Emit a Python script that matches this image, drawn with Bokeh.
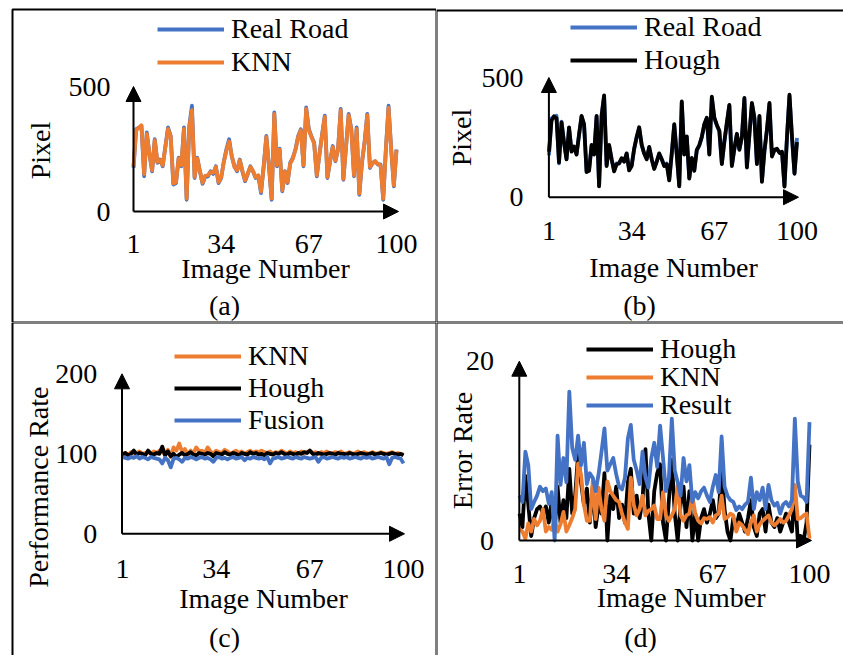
import math
from bokeh.plotting import figure
from bokeh.models import (Range1d, Legend, LegendItem, Arrow, NormalHead, Label,
                          BoxAnnotation, ColumnDataSource)
from bokeh.core.properties import value
from bokeh.layouts import column, row
from bokeh.embed import file_html
from bokeh.resources import INLINE

# ---------------- data ----------------
image_numbers = list(range(1, 101))
x_ticks = [1, 34, 67, 100]

real_road = [175, 329, 335, 340, 141, 316, 230, 161, 289, 195,
             208, 181, 260, 336, 302, 108, 114, 215, 181, 336,
             47, 343, 423, 134, 215, 160, 111, 141, 140, 161,
             150, 181, 114, 134, 200, 250, 289, 220, 181, 161,
             208, 160, 121, 150, 181, 160, 134, 141, 74, 181,
             302, 180, 47, 396, 181, 251, 81, 161, 114, 195,
             215, 250, 302, 329, 181, 416, 329, 300, 275, 141,
             230, 309, 383, 134, 200, 262, 201, 250, 410, 127,
             260, 390, 329, 141, 336, 67, 195, 280, 390, 174,
             195, 200, 188, 188, 47, 250, 423, 250, 101, 248]

knn_pixel = [180, 325, 335, 345, 150, 310, 232, 165, 285, 198,
             205, 185, 258, 330, 300, 112, 118, 212, 185, 330,
             52, 338, 405, 138, 212, 162, 115, 143, 145, 158,
             155, 178, 118, 137, 198, 245, 280, 222, 178, 165,
             205, 162, 125, 152, 178, 162, 137, 145, 80, 178,
             298, 182, 52, 390, 185, 248, 85, 160, 118, 192,
             212, 248, 298, 325, 185, 410, 325, 298, 272, 145,
             228, 305, 378, 138, 202, 258, 204, 248, 405, 130,
             258, 385, 325, 145, 330, 72, 198, 278, 385, 178,
             192, 202, 190, 185, 52, 248, 415, 248, 105, 245]

hough_pixel = [190, 320, 338, 330, 145, 312, 228, 158, 292, 190,
               212, 178, 262, 340, 305, 105, 110, 218, 178, 340,
               45, 340, 425, 130, 218, 158, 108, 138, 142, 163,
               148, 183, 112, 130, 203, 252, 292, 218, 183, 158,
               210, 158, 118, 148, 183, 158, 130, 138, 70, 183,
               305, 178, 45, 400, 178, 254, 78, 164, 110, 198,
               218, 252, 305, 332, 178, 420, 332, 302, 278, 138,
               232, 312, 386, 130, 203, 265, 198, 252, 415, 124,
               262, 394, 332, 138, 340, 64, 192, 283, 394, 170,
               198, 203, 185, 190, 44, 252, 428, 252, 98, 230]

knn_perf = [100, 101, 99, 102, 100, 101, 103, 100, 101, 102,
            100, 103, 101, 104, 102, 100, 105, 96, 108, 104,
            113, 102, 106, 99, 104, 101, 108, 103, 104, 101,
            108, 103, 100, 104, 102, 101, 105, 103, 100, 102,
            104, 101, 103, 100, 102, 104, 101, 103, 102, 104,
            102, 101, 103, 100, 102, 101, 104, 102, 100, 103,
            101, 102, 100, 103, 101, 102, 104, 101, 102, 100,
            102, 101, 103, 100, 101, 102, 101, 103, 100, 101,
            102, 100, 101, 103, 100, 102, 101, 100, 102, 101,
            100, 102, 101, 100, 101, 102, 100, 101, 100, 99]

hough_perf = [99, 101, 98, 100, 104, 99, 101, 100, 98, 104,
              100, 99, 101, 100, 109, 98, 103, 97, 100, 96,
              99, 101, 98, 100, 102, 99, 98, 101, 100, 99,
              101, 100, 97, 101, 100, 99, 102, 100, 99, 101,
              100, 98, 101, 100, 99, 102, 100, 101, 99, 100,
              98, 101, 100, 99, 101, 100, 102, 100, 99, 101,
              100, 99, 101, 100, 102, 101, 104, 100, 99, 101,
              100, 99, 100, 101, 100, 99, 101, 100, 100, 99,
              101, 100, 99, 100, 101, 100, 99, 100, 101, 99,
              100, 101, 100, 99, 100, 101, 100, 99, 100, 98]

fusion_perf = [96, 95, 94, 96, 95, 97, 94, 96, 95, 93,
               96, 95, 94, 93, 88, 95, 92, 83, 94, 95,
               93, 90, 95, 94, 96, 95, 93, 95, 96, 94,
               95, 93, 90, 95, 96, 94, 95, 93, 95, 96,
               94, 95, 96, 92, 95, 94, 96, 95, 94, 95,
               93, 96, 88, 94, 95, 96, 94, 95, 96, 95,
               94, 96, 95, 94, 96, 95, 94, 95, 96, 90,
               95, 96, 94, 95, 96, 95, 94, 96, 95, 96,
               94, 95, 96, 95, 94, 96, 95, 96, 94, 95,
               96, 95, 94, 96, 87, 95, 96, 95, 94, 88]

hough_err = [3.0, 1.5, 7.2, 4.0, 0.5, 2.5, 3.5, 3.8, 3.0, 3.8,
             2.0, 4.5, 1.0, 6.0, 2.0, 4.5, 2.5, 8.0, 3.0, 5.0,
             9.6, 6.5, 4.0, 5.8, 2.0, 6.0, 1.5, 4.0, 3.0, 7.5,
             0.0, 5.0, 3.5, 6.0, 2.5, 4.0, 2.0, 6.5, 8.0, 3.0,
             5.0, 2.5, 4.5, 10.2, 3.0, 0.0, 5.5, 7.5, 8.5, 2.0,
             0.0, 4.5, 9.0, 3.0, 0.0, 4.0, 6.0, 1.5, 5.5, 0.0,
             3.0, 0.0, 2.5, 3.5, 2.0, 3.0, 4.5, 2.5, 3.0, 8.0,
             3.5, 1.0, 0.0, 2.5, 1.5, 3.0, 2.0, 1.0, 2.5, 4.5,
             1.5, 0.5, 3.0, 3.5, 1.0, 4.0, 2.0, 1.5, 2.5, 1.0,
             2.0, 3.0, 2.0, 1.0, 5.5, 0.0, 0.5, 0.0, 2.0, 10.7]

knn_err = [1.3, 1.0, 0.2, 1.9, 1.0, 2.4, 1.7, 2.2, 3.5, 1.0,
           1.5, 1.2, 2.4, 1.0, 1.8, 3.2, 1.0, 1.7, 2.5, 3.5,
           8.6, 7.4, 4.0, 2.2, 2.2, 6.6, 2.4, 5.9, 3.5, 2.2,
           6.6, 5.5, 5.0, 4.5, 4.3, 3.0, 2.0, 1.3, 7.0, 4.0,
           2.8, 3.5, 5.0, 2.8, 3.3, 3.5, 3.9, 2.4, 2.4, 5.4,
           2.8, 2.2, 2.8, 3.5, 6.2, 2.8, 2.2, 2.8, 3.0, 5.0,
           3.0, 2.2, 1.9, 2.5, 2.4, 2.6, 2.0, 2.8, 3.0, 5.0,
           2.4, 2.6, 3.0, 2.8, 1.0, 2.0, 1.7, 1.2, 0.7, 2.0,
           2.8, 1.0, 1.8, 2.2, 2.5, 2.8, 2.0, 1.7, 2.0, 2.4,
           2.0, 2.2, 2.8, 3.5, 6.2, 2.4, 2.5, 2.8, 3.0, 0.2]

result_err = [5.0, 4.3, 9.9, 8.4, 3.5, 4.3, 5.0, 6.0, 5.5, 5.8,
              4.1, 5.4, 0.0, 11.7, 6.2, 9.2, 6.5, 16.6, 10.3, 9.0,
              11.7, 8.4, 10.9, 6.3, 7.5, 7.0, 5.5, 7.4, 9.9, 12.5,
              7.8, 8.5, 9.2, 7.4, 6.0, 5.7, 7.0, 11.4, 12.9, 9.0,
              7.8, 6.3, 9.9, 7.0, 5.9, 9.2, 10.9, 8.2, 12.8, 9.2,
              5.5, 7.0, 13.6, 7.8, 6.5, 5.0, 9.2, 6.6, 8.4, 4.3,
              5.4, 4.7, 5.5, 5.9, 5.0, 4.3, 6.0, 7.3, 5.4, 11.6,
              6.0, 5.0, 4.5, 4.3, 3.4, 3.8, 3.5, 4.0, 4.3, 7.0,
              3.5, 5.4, 4.5, 5.9, 3.5, 6.2, 4.5, 3.9, 4.2, 3.0,
              4.0, 4.3, 3.8, 4.5, 13.6, 6.6, 5.0, 4.8, 4.3, 13.2]

pixel_ticks = [0, 500]
perf_ticks = [0, 100, 200]
err_ticks = [0, 20]

# ---------------- style ----------------
FONT = "Liberation Serif"
FS = "28px"
ROWH = 32.0    # legend row height for 28px text
BLUE, ORANGE, BLACK = "#4472C4", "#ED7D31", "#000000"
LW = 3.8

# layout of each table cell (pixels inside the cell)
GEOM = {
    "a": dict(W=436, H=322, yaxis_px=133, xaxis_py=211, x1_px=133, x100_px=396,
              xtip_px=398, ytop_py=86, xtick_cy=243, ytick_right=110,
              ylabel=(40, 150), xlabel=(265, 268), cap=(224, 305),
              leg_left=157, leg_c0=29, leg_pitch=33, border=(12, 9, 436, 322)),
    "b": dict(W=407, H=322, yaxis_px=112.4, xaxis_py=196.7, x1_px=112.5, x100_px=360.5,
              xtip_px=362, ytop_py=77, xtick_cy=230, ytick_right=87,
              ylabel=(25, 137), xlabel=(237, 267), cap=(203, 305),
              leg_left=134, leg_c0=27, leg_pitch=33, border=(0, 10, 410, 322)),
    "c": dict(W=436, H=333, yaxis_px=121.5, xaxis_py=211.3, x1_px=122, x100_px=403,
              xtip_px=404, ytop_py=51.3, xtick_cy=246.3, ytick_right=96.8,
              ylabel=(37.6, 164.7), xlabel=(263, 276.3), cap=(224, 314.7),
              leg_left=174, leg_c0=34, leg_pitch=32, border=(12, 0, 436, 336)),
    "d": dict(W=407, H=333, yaxis_px=82.8, xaxis_py=218, x1_px=83, x100_px=373,
              xtip_px=375, ytop_py=38.7, xtick_cy=251.3, ytick_right=57.5,
              ylabel=(26.4, 128), xlabel=(244.6, 274.7), cap=(204, 314.7),
              leg_left=150, leg_c0=26.5, leg_pitch=28.3, border=(0, 0, 410, 336)),
}


def text_label(H, x, y, text, angle=0.0, align="center"):
    return Label(x=x, y=H - y, x_units="screen", y_units="screen", text=text,
                 angle=angle, text_align=align, text_baseline="middle",
                 text_font=FONT, text_font_size=FS, text_color=BLACK)


def make_panel(g, series, yticks, ylabel, caption):
    W, H = g["W"], g["H"]
    kx = (g["x100_px"] - g["x1_px"]) / 99.0
    ky = (g["xaxis_py"] - g["ytop_py"]) / float(yticks[-1])

    def xv(px):
        return 1 + (px - g["x1_px"]) / kx

    def yv(py):
        return (g["xaxis_py"] - py) / ky

    # the frame fills the whole table cell
    p = figure(width=W, height=H, x_range=Range1d(xv(0), xv(W)),
               y_range=Range1d(yv(H), yv(0)), output_backend="svg",
               toolbar_location=None, title=None,
               x_axis_location=None, y_axis_location=None, min_border=0)
    p.outline_line_color = None
    p.background_fill_color = "white"
    p.border_fill_color = "white"
    p.grid.visible = False

    # data lines
    renderers = []
    for name, vals, color in series:
        r = p.line(image_numbers, vals, line_color=color, line_width=LW,
                   line_join="round")
        renderers.append((name, r))

    # axes drawn as arrows
    x0 = xv(g["yaxis_px"])
    p.add_layout(Arrow(end=NormalHead(size=15, fill_color=BLACK, line_color=BLACK, line_width=1),
                       x_start=x0, y_start=0, x_end=xv(g["xtip_px"]), y_end=0,
                       line_color=BLACK, line_width=2))
    p.add_layout(Arrow(end=NormalHead(size=15, fill_color=BLACK, line_color=BLACK, line_width=1),
                       x_start=x0, y_start=0, x_end=x0, y_end=yticks[-1],
                       line_color=BLACK, line_width=2))

    # tick labels
    xsrc = ColumnDataSource(dict(x=x_ticks, y=[yv(g["xtick_cy"])] * len(x_ticks),
                                 t=[str(v) for v in x_ticks]))
    p.text(x="x", y="y", text="t", source=xsrc, text_align="center",
           text_baseline="middle", text_font=value(FONT), text_font_size=value(FS),
           text_color=BLACK)
    ysrc = ColumnDataSource(dict(x=[xv(g["ytick_right"])] * len(yticks), y=yticks,
                                 t=[str(v) for v in yticks]))
    p.text(x="x", y="y", text="t", source=ysrc, text_align="right",
           text_baseline="middle", text_font=value(FONT), text_font_size=value(FS),
           text_color=BLACK)

    # axis titles
    xcx, xcy = g["xlabel"]
    p.add_layout(text_label(H, xcx, xcy, "Image Number"))
    ycx, ycy = g["ylabel"]
    p.add_layout(text_label(H, ycx, ycy, ylabel, angle=math.pi / 2))

    # legend: one row per series, placed row by row
    for i, (name, r) in enumerate(renderers):
        centre = g["leg_c0"] + i * g["leg_pitch"]
        leg = Legend(items=[LegendItem(label=name, renderers=[r])],
                     location=(int(round(g["leg_left"])), int(round(H - centre - ROWH / 2.0))),
                     glyph_width=67, glyph_height=20, label_height=20, label_standoff=7,
                     padding=0, margin=0, spacing=0,
                     label_text_font=FONT, label_text_font_size=FS, label_text_color=BLACK,
                     border_line_alpha=0, background_fill_alpha=0)
        p.add_layout(leg)

    # caption
    cx, cy = g["cap"]
    p.add_layout(text_label(H, cx, cy, caption))

    # table cell border
    bx0, by0, bx1, by1 = g["border"]
    p.add_layout(BoxAnnotation(left=bx0, right=bx1, top=H - by0, bottom=H - by1,
                               left_units="screen", right_units="screen",
                               top_units="screen", bottom_units="screen",
                               fill_alpha=0, line_color=BLACK, line_width=2, line_alpha=1))
    return p


pa = make_panel(GEOM["a"], [("Real Road", real_road, BLUE), ("KNN", knn_pixel, ORANGE)],
                pixel_ticks, "Pixel", "(a)")
pb = make_panel(GEOM["b"], [("Real Road", real_road, BLUE), ("Hough", hough_pixel, BLACK)],
                pixel_ticks, "Pixel", "(b)")
pc = make_panel(GEOM["c"], [("KNN", knn_perf, ORANGE), ("Hough", hough_perf, BLACK),
                            ("Fusion", fusion_perf, BLUE)],
                perf_ticks, "Performance Rate", "(c)")
pd = make_panel(GEOM["d"], [("Hough", hough_err, BLACK), ("KNN", knn_err, ORANGE),
                            ("Result", result_err, BLUE)],
                err_ticks, "Error Rate", "(d)")

layout = column(row(pa, pb), row(pc, pd))
open("out.html", "w").write(file_html(layout, INLINE))
